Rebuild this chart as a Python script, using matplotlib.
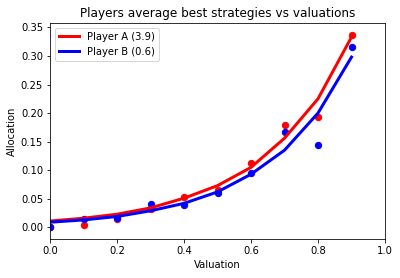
import matplotlib
matplotlib.use("Agg")
import matplotlib.pyplot as plt

valuations = [0.0, 0.1, 0.2, 0.3, 0.4, 0.5, 0.6, 0.7, 0.8, 0.9]
a_fit = [0.011, 0.016, 0.023, 0.034, 0.051, 0.073, 0.105, 0.156, 0.225, 0.333]
b_fit = [0.009, 0.013, 0.019, 0.029, 0.042, 0.062, 0.093, 0.135, 0.200, 0.298]
a_obs = [0.0, 0.005, 0.0146, 0.032, 0.053, 0.065, 0.112, 0.179, 0.194, 0.337]
b_obs = [0.0, 0.0146, 0.017, 0.041, 0.040, 0.061, 0.095, 0.167, 0.144, 0.316]
labels = ["Player A (3.9)", "Player B (0.6)"]

fig = plt.figure(figsize=(400 / 72, 278 / 72), dpi=72)
ax = fig.add_axes([0.125, 0.139, 0.8375, 0.779])
ax.plot(valuations, a_fit, color="red", lw=3, label=labels[0])
ax.plot(valuations, b_fit, color="blue", lw=3, label=labels[1])
ax.scatter(valuations, a_obs, color="red", s=40)
ax.scatter(valuations, b_obs, color="blue", s=40)
ax.set_xlim(0, 1.0)
ax.set_ylim(-0.021, 0.358)
ax.set_title("Players average best strategies vs valuations")
ax.set_xlabel("Valuation")
ax.set_ylabel("Allocation")
ax.legend(loc="upper left")
fig.savefig("out.png", dpi=72)
